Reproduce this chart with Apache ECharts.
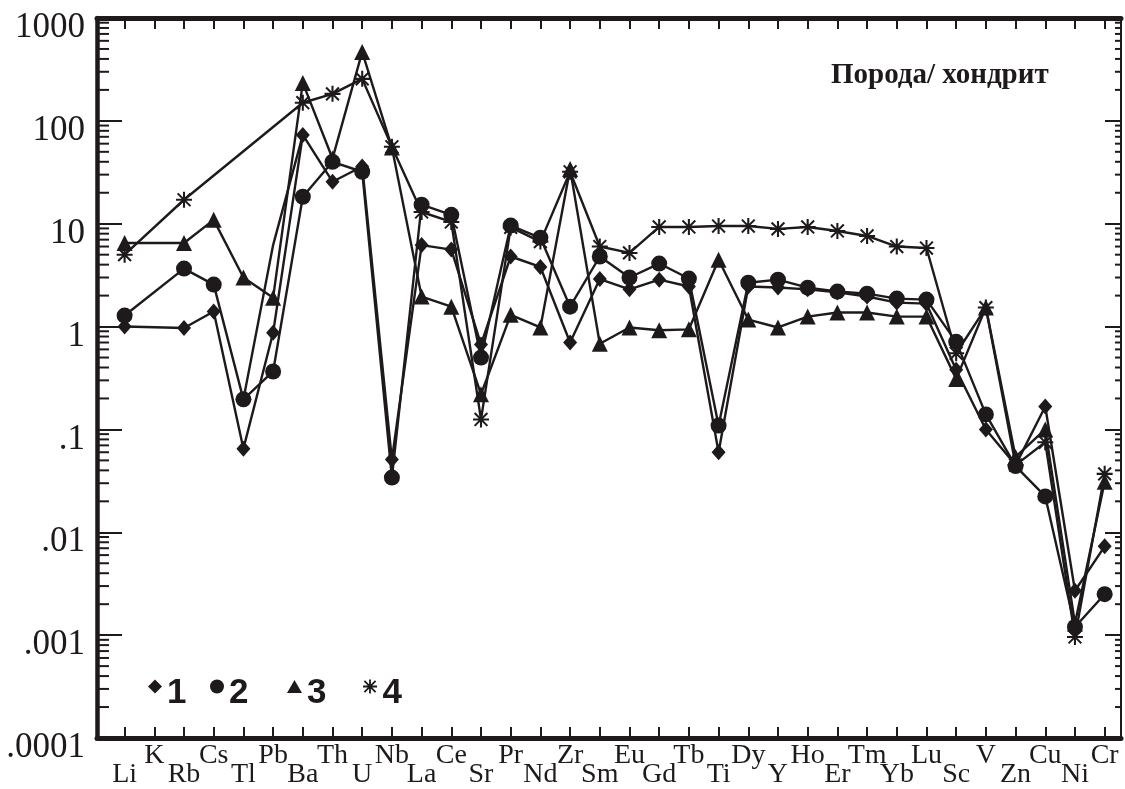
<!DOCTYPE html>
<html>
<head>
<meta charset="utf-8">
<script src="https://cdn.jsdelivr.net/npm/echarts@6/dist/echarts.min.js"></script>
<style>
  html, body { margin: 0; padding: 0; background: #fff; }
  #chart { width: 1125px; height: 789px; }
</style>
</head>
<body>
<div id="chart"></div>
<script>
const cats = ['Li', 'K', 'Rb', 'Cs', 'Tl', 'Pb', 'Ba', 'Th', 'U', 'Nb', 'La', 'Ce', 'Sr', 'Pr', 'Nd', 'Zr', 'Sm',
  'Eu', 'Gd', 'Tb', 'Ti', 'Dy', 'Y', 'Ho', 'Er', 'Tm', 'Yb', 'Lu', 'Sc', 'V', 'Zn', 'Cu', 'Ni', 'Cr']

// порода / хондрит
const s1 = [1.0, null, 0.97, 1.4, 0.065, 0.87, 73, 25.6, 36, 0.051, 6.2, 5.6, 0.67, 4.8, 3.8, 0.70, 2.9,
  2.3, 2.86, 2.45, 0.06, 2.45, 2.4, 2.3, 2.15, 1.96, 1.71, 1.67, 0.38, 0.1, 0.045, 0.167, 0.0027, 0.0073]
const s2 = [1.28, null, 3.66, 2.56, 0.196, 0.366, 18.3, 40, 32, 0.034, 15.3, 12.2, 0.5, 9.6, 7.3, 1.56, 4.8,
  3.0, 4.1, 2.93, 0.109, 2.67, 2.86, 2.39, 2.19, 2.09, 1.87, 1.83, 0.71, 0.14, 0.044, 0.0223, 0.0012, 0.0025]
const s3 = [6.5, null, 6.5, 10.9, 3.0, 1.91, 234, 43, 468, 55, 1.96, 1.56, 0.22, 1.3, 0.98, 34, 0.68,
  0.98, 0.92, 0.94, 4.47, 1.17, 0.98, 1.25, 1.37, 1.37, 1.25, 1.25, 0.31, 1.53, 0.054, 0.1, 0.0013, 0.031]
const s4 = [5.0, null, 17.1, null, null, null, 150, 183, 256, 56, 13, 10.4, 0.125, 9.2, 6.7, 32, 6.0,
  5.2, 9.3, 9.3, 9.5, 9.5, 8.9, 9.3, 8.5, 7.6, 6.0, 5.8, 0.55, 1.53, 0.045, 0.075, 0.00096, 0.037]
// линия без значков между Tl и Ba
const trace = [null, null, null, null, 0.196, 6.2, 73, null, null, null, null, null, null, null, null, null, null,
  null, null, null, null, null, null, null, null, null, null, null, null, null, null, null, null, null]

const yLabels = { '-4': '.0001', '-3': '.001', '-2': '.01', '-1': '.1', '0': '1', '1': '10', '2': '100', '3': '1000' }
const decades = [0.0001, 0.001, 0.01, 0.1, 1, 10, 100]
const minorSteps = [2, 3, 4, 5, 6, 7, 8, 9]

const ink = '#1e1a1b'
const xMin = 0.07
const xMax = 34.55
const positions = cats.map((c, i) => i + 1)
const upperPos = positions.filter((p) => p % 2 === 0)
const lowerPos = positions.filter((p) => p % 2 === 1)
const minorTicks = []
decades.forEach((d) => minorSteps.forEach((m) => minorTicks.push([xMin, +(d * m).toPrecision(3)])))

const star = 'path://M8.7 0H11.3V20H8.7Z M0 8.7H20V11.3H0Z M2.9 1.1L18.9 17.1L17.1 18.9L1.1 2.9Z M17.1 1.1L18.9 2.9L2.9 18.9L1.1 17.1Z'

const toPairs = (arr) => arr.map((v, i) => [i + 1, v])

const chart = echarts.init(document.getElementById('chart'))

function lineSeries(name, data, symbol, size) {
  return {
    name: name,
    type: 'line',
    data: toPairs(data),
    connectNulls: true,
    symbol: symbol,
    symbolSize: size,
    showSymbol: symbol !== 'none',
    lineStyle: { color: ink, width: 2.4 },
    itemStyle: { color: ink },
    emphasis: { disabled: true },
    z: 3,
  }
}

function legendFor(name, icon, left, w, h) {
  return {
    data: [{ name: name, icon: icon }],
    left: left,
    top: 676,
    itemWidth: w,
    itemHeight: h,
    padding: 0,
    selectedMode: false,
    formatter: (n) => '{d|' + n + '}',
    textStyle: {
      color: ink,
      fontFamily: 'Liberation Sans',
      fontWeight: 'bold',
      fontSize: 35,
      rich: {
        d: { color: ink, fontFamily: 'Liberation Sans', fontWeight: 'bold', fontSize: 35, padding: [14, 0, 0, 0] },
      },
    },
  }
}

const xLabelStyle = {
  color: ink,
  fontFamily: 'Liberation Serif',
  fontSize: 28,
  formatter: (v) => cats[v - 1],
}

const option = {
  backgroundColor: '#fff',
  animation: false,
  title: {
    text: 'Порода/ хондрит',
    left: 826,
    top: 56,
    textStyle: { color: ink, fontFamily: 'Liberation Serif', fontWeight: 'bold', fontSize: 29 },
  },
  legend: [
    legendFor('1', 'diamond', 148, 14, 14),
    legendFor('2', 'circle', 210, 14, 14),
    legendFor('3', 'triangle', 287, 15, 13),
    legendFor('4', star, 363, 15, 14),
  ],
  grid: { left: 97, right: 4, top: 18, bottom: 51 },
  xAxis: [
    {
      type: 'value', position: 'bottom', min: xMin, max: xMax,
      axisLine: { show: true, lineStyle: { color: ink, width: 5 } },
      axisTick: { show: true, inside: true, length: 11, customValues: positions, lineStyle: { color: ink, width: 2 } },
      axisLabel: Object.assign({ customValues: upperPos, margin: 4 }, xLabelStyle),
      splitLine: { show: false },
    },
    {
      type: 'value', position: 'bottom', min: xMin, max: xMax,
      axisLine: { show: false },
      axisTick: { show: false },
      axisLabel: Object.assign({ customValues: lowerPos, margin: 23 }, xLabelStyle),
      splitLine: { show: false },
    },
    {
      type: 'value', position: 'top', min: xMin, max: xMax,
      axisLine: { show: true, lineStyle: { color: ink, width: 5 } },
      axisTick: { show: true, inside: true, length: 11, customValues: positions, lineStyle: { color: ink, width: 2 } },
      axisLabel: { show: false },
      splitLine: { show: false },
    },
  ],
  yAxis: [
    {
      type: 'log', logBase: 10, min: 0.0001, max: 1000, interval: 1, position: 'left',
      axisLine: { show: true, lineStyle: { color: ink, width: 4.5 } },
      axisTick: { show: true, inside: true, length: 25, lineStyle: { color: ink, width: 2 } },
      axisLabel: {
        color: ink,
        fontFamily: 'Liberation Serif',
        fontSize: 35,
        margin: 12,
        formatter: (v) => '{n|' + yLabels[String(Math.round(Math.log10(v)))] + '}',
        rich: {
          n: { color: ink, fontFamily: 'Liberation Serif', fontSize: 35, padding: [20, 0, 0, 0] },
        },
      },
      splitLine: { show: false },
    },
    {
      type: 'log', logBase: 10, min: 0.0001, max: 1000, interval: 1, position: 'right',
      axisLine: { show: true, lineStyle: { color: ink, width: 2 } },
      axisTick: { show: true, inside: true, length: 16, lineStyle: { color: ink, width: 2 } },
      axisLabel: { show: false },
      splitLine: { show: false },
    },
  ],
  series: [
    {
      type: 'custom',
      silent: true,
      clip: false,
      data: minorTicks,
      renderItem: (params, api) => {
        const y = api.coord([api.value(0), api.value(1)])[1]
        const cs = params.coordSys
        const left = cs.x
        const right = cs.x + cs.width
        return {
          type: 'group',
          children: [
            { type: 'line', shape: { x1: left, y1: y, x2: left + 12, y2: y }, style: { stroke: ink, lineWidth: 2 } },
            { type: 'line', shape: { x1: right - 6, y1: y, x2: right, y2: y }, style: { stroke: ink, lineWidth: 2 } },
          ],
        }
      },
    },
    Object.assign(lineSeries('trace', trace, 'none', 0), { silent: true }),
    lineSeries('1', s1, 'diamond', [14, 16]),
    lineSeries('2', s2, 'circle', 16),
    lineSeries('3', s3, 'triangle', 16),
    lineSeries('4', s4, star, 16),
  ],
}

chart.setOption(option)
</script>
</body>
</html>
